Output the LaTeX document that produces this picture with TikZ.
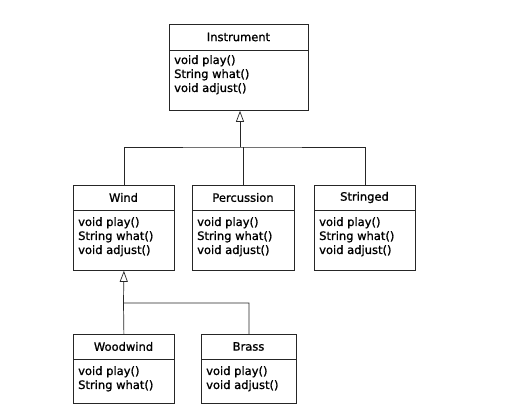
\documentclass[tikz,border=0pt]{standalone}
\usepackage{fontspec}
\setmainfont{DejaVu Sans}[BoldFont={DejaVu Sans}, BoldFeatures={FakeBold=1.2}]
\usetikzlibrary{arrows.meta}
\begin{document}
\begin{tikzpicture}[x=1pt,y=-1pt,
  cls/.style={draw=black!85, line width=0.8pt, rectangle, inner sep=0pt, anchor=north west},
  ttl/.style={font=\fontsize{11.5}{14}\selectfont\bfseries, inner sep=0pt},
  mth/.style={font=\fontsize{11.5}{14}\selectfont\bfseries, inner sep=0pt, anchor=north west, align=left},
  conn/.style={draw=black!85, line width=0.7pt},
  inh/.style={conn, -{Triangle[open, length=11pt, width=8pt]}}
]
\useasboundingbox (0,0) rectangle (527,407);

% Instrument
\node[cls, minimum width=139pt, minimum height=86pt] (instr) at (169,24) {};
\draw[conn] (169,50) -- (308,50);
\node[ttl] (instrT) at (238.5,37) {Instrument};
\node[mth] (instrM) at (174,55) {void play()\\String what()\\void adjust()};

% Wind
\node[cls, minimum width=101pt, minimum height=85pt] (wind) at (73,185) {};
\draw[conn] (73,210) -- (174,210);
\node[ttl] (windT) at (123.5,197.5) {Wind};
\node[mth] (windM) at (78,217) {void play()\\String what()\\void adjust()};

% Percussion
\node[cls, minimum width=102pt, minimum height=85pt] (perc) at (192,185) {};
\draw[conn] (192,210) -- (294,210);
\node[ttl] (percT) at (243,197.5) {Percussion};
\node[mth] (percM) at (197,217) {void play()\\String what()\\void adjust()};

% Stringed
\node[cls, minimum width=101pt, minimum height=85pt] (str) at (314,185) {};
\draw[conn] (314,210) -- (415,210);
\node[ttl] (strT) at (364.5,197.5) {Stringed};
\node[mth] (strM) at (319,217) {void play()\\String what()\\void adjust()};

% Woodwind
\node[cls, minimum width=101pt, minimum height=69pt] (wood) at (73,334) {};
\draw[conn] (73,359) -- (174,359);
\node[ttl] (woodT) at (123.5,346.5) {Woodwind};
\node[mth] (woodM) at (78,366) {void play()\\String what()};

% Brass
\node[cls, minimum width=95pt, minimum height=69pt] (brass) at (201,334) {};
\draw[conn] (201,359) -- (296,359);
\node[ttl] (brassT) at (248.5,346.5) {Brass};
\node[mth] (brassM) at (206,366) {void play()\\void adjust()};

% connectors level 1
\coordinate (j1) at (240,147);
\draw[conn] (wind.north) |- (j1) -| (str.north);
\draw[conn] (perc.north) -- (perc.north |- j1);
\draw[inh] (j1) -- (j1 |- instr.south);

% connectors level 2
\coordinate (j2) at (123.5,303);
\draw[conn] (wood.north) -- (j2) -| (brass.north);
\draw[inh] (j2) -- (wind.south);
\end{tikzpicture}
\end{document}
